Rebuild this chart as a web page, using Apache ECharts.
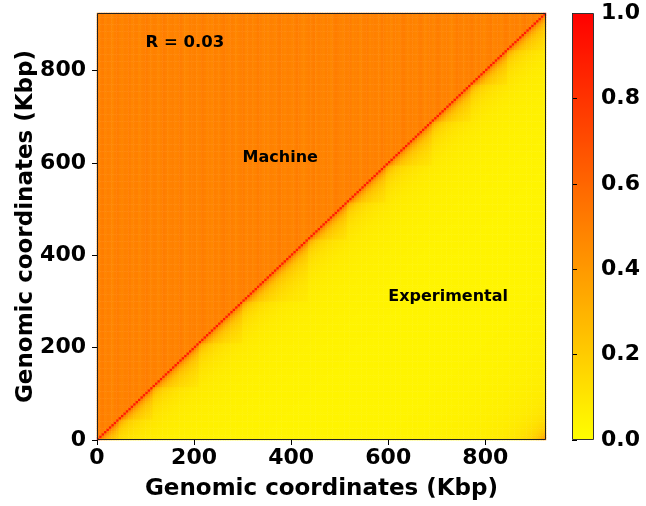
<!DOCTYPE html>
<html>
<head>
<meta charset="utf-8">
<script src="https://cdn.jsdelivr.net/npm/echarts@6/dist/echarts.min.js"></script>
<style>
  html, body { margin: 0; padding: 0; background: #ffffff; }
  #chart { width: 646px; height: 506px; }
</style>
</head>
<body>
<div id="chart"></div>
<script>
// ---- data ----------------------------------------------------------------
const binKbp = 5;            // matrix resolution
const genomeKbp = 925;       // genome length shown on both axes
const axisTicks = [0, 200, 400, 600, 800];
const colorTicks = [0.0, 0.2, 0.4, 0.6, 0.8, 1.0];
const axisTitle = 'Genomic coordinates (Kbp)';
const annotationTexts = ['R = 0.03', 'Machine', 'Experimental'];

// predicted (machine) contact level per column, upper triangle
const machineColumns = [
  0.50,0.49,0.51,0.48,0.50,0.49,0.47,0.50,0.51,0.49,
  0.48,0.50,0.49,0.51,0.48,0.49,0.50,0.47,0.49,0.50,
  0.51,0.49,0.48,0.50,0.49,0.47,0.49,0.51,0.50,0.48,
  0.49,0.50,0.48,0.49,0.51,0.49,0.47,0.48,0.50,0.49,
  0.50,0.48,0.49,0.51,0.50,0.48,0.49,0.47,0.50,0.49,
  0.48,0.50,0.51,0.49,0.48,0.50,0.49,0.47,0.49,0.50,
  0.51,0.48,0.49,0.50,0.48,0.49,0.51,0.50,0.48,0.49,
  0.47,0.50,0.49,0.48,0.50,0.51,0.49,0.48,0.50,0.49,
  0.48,0.49,0.51,0.50,0.48,0.47,0.49,0.50,0.49,0.51,
  0.48,0.50,0.49,0.48,0.50,0.49,0.47,0.49,0.51,0.50,
  0.49,0.48,0.50,0.49,0.51,0.48,0.49,0.50,0.47,0.49,
  0.50,0.51,0.48,0.49,0.50,0.49,0.48,0.51,0.50,0.48,
  0.49,0.47,0.50,0.49,0.48,0.50,0.51,0.49,0.48,0.50,
  0.49,0.48,0.50,0.51,0.49,0.47,0.49,0.50,0.48,0.49,
  0.51,0.50,0.48,0.49,0.50,0.48,0.47,0.49,0.51,0.50,
  0.49,0.48,0.50,0.49,0.51,0.49,0.48,0.50,0.49,0.47,
  0.49,0.50,0.51,0.48,0.49,0.50,0.48,0.49,0.51,0.50,
  0.48,0.49,0.50,0.49,0.47,0.50,0.51,0.49,0.48,0.50,
  0.49,0.48,0.50,0.49,0.51
];

// experimental contact level by (circular) distance from the diagonal, in bins
const contactDecay = [
  0.90,
  0.40,0.32,0.27,0.23,0.20,0.18,0.165,0.15,0.14,0.13,
  0.122,0.115,0.108,0.102,0.097,0.093,0.089,0.086,0.083,0.080,
  0.078,0.076,0.074,0.072,0.070,0.069,0.068,0.066,0.065,0.064,
  0.063,0.062,0.061,0.060,0.059,0.058,0.058,0.057,0.056,0.055,
  0.055,0.054,0.054,0.053,0.053,0.052,0.052,0.051,0.051,0.050,
  0.050,0.050,0.049,0.049,0.049,0.048,0.048,0.048,0.047,0.047,
  0.047,0.047,0.046,0.046,0.046,0.046,0.045,0.045,0.045,0.045,
  0.045,0.044,0.044,0.044,0.044,0.044,0.043,0.043,0.043,0.043,
  0.043,0.043,0.042,0.042,0.042,0.042,0.042,0.042,0.042,0.042,0.042,0.042
];

// domain edges (Kbp) of the experimental map; contacts inside a domain are enriched
const domainEdgesKbp = [0, 45, 115, 210, 300, 435, 515, 595, 690, 770, 845, 925];
const domainBoost = 1.25;

// ---- matrix --------------------------------------------------------------
const nBins = Math.round(genomeKbp / binKbp);
const binLabels = Array.from({ length: nBins }, (_, i) => i * binKbp);
function domainOf(bin) {
  const kbp = bin * binKbp;
  let d = 0;
  while (d < domainEdgesKbp.length - 2 && kbp >= domainEdgesKbp[d + 1]) d++;
  return d;
}
const cells = [];
for (let i = 0; i < nBins; i++) {
  for (let j = 0; j < nBins; j++) {
    let v;
    if (j > i) {
      v = machineColumns[i];
    } else {
      const d = i - j;
      v = contactDecay[Math.min(d, nBins - d)];
      if (d > 0 && domainOf(i) === domainOf(j)) v = Math.min(1, v * domainBoost);
    }
    cells.push([i, j, v]);
  }
}

// ---- layout --------------------------------------------------------------
const plot = { left: 97, top: 13, width: 449, height: 427 };
const bar = { left: 572, top: 13, width: 22, height: 427 };
const font = 'DejaVu Sans';
const tickLabel = { color: '#000', fontFamily: font, fontWeight: 'bold', fontSize: 22 };
const titleStyle = { color: '#000', fontFamily: font, fontWeight: 'bold', fontSize: 23 };

const chart = echarts.init(document.getElementById('chart'), null, { renderer: 'canvas' });

chart.setOption({
  animation: false,
  backgroundColor: '#ffffff',
  grid: [
    { left: plot.left, top: plot.top, width: plot.width, height: plot.height, outerBoundsMode: 'none' },
    { left: bar.left, top: bar.top, width: bar.width, height: bar.height, outerBoundsMode: 'none' }
  ],
  xAxis: [
    { type: 'category', gridIndex: 0, data: binLabels, show: false },
    {
      type: 'value', gridIndex: 0, min: 0, max: genomeKbp, interval: 200, position: 'bottom',
      z: 10,
      name: axisTitle, nameLocation: 'middle', nameGap: 38, nameMoveOverlap: false,
      nameTextStyle: titleStyle,
      axisLine: { show: false },
      axisTick: { show: true, length: 5, lineStyle: { color: '#000', width: 1 } },
      axisLabel: Object.assign({ margin: 7, showMaxLabel: false,
        formatter: v => axisTicks.includes(v) ? String(v) : '' }, tickLabel),
      splitLine: { show: false }
    },
    { type: 'value', gridIndex: 1, min: 0, max: 1, show: false }
  ],
  yAxis: [
    { type: 'category', gridIndex: 0, data: binLabels, show: false },
    {
      type: 'value', gridIndex: 0, min: 0, max: genomeKbp, interval: 200, position: 'left',
      z: 10,
      name: axisTitle, nameLocation: 'middle', nameGap: 59, nameRotate: 90, nameMoveOverlap: false,
      nameTextStyle: titleStyle,
      axisLine: { show: false },
      axisTick: { show: true, length: 5, lineStyle: { color: '#000', width: 1 } },
      axisLabel: Object.assign({ margin: 11, showMaxLabel: false,
        formatter: v => axisTicks.includes(v) ? String(v) : '' }, tickLabel),
      splitLine: { show: false }
    },
    {
      type: 'value', gridIndex: 1, min: 0, max: 1, interval: 0.2, position: 'right',
      z: 10,
      axisLine: { show: false },
      axisTick: { show: true, length: 5, lineStyle: { color: '#000', width: 1 } },
      axisLabel: Object.assign({ margin: 7,
        formatter: v => colorTicks.some(t => Math.abs(t - v) < 1e-9) ? v.toFixed(1) : '' }, tickLabel),
      splitLine: { show: false }
    }
  ],
  visualMap: {
    type: 'continuous', min: 0, max: 1, seriesIndex: 0,
    calculable: false, realtime: false, hoverLink: false,
    left: bar.left, top: bar.top, padding: 0,
    itemWidth: bar.width, itemHeight: bar.height,
    text: null, showLabel: false,
    inRange: { color: ['#ffff00', '#ff0000'] }
  },
  series: [{
    type: 'heatmap',
    xAxisIndex: 0, yAxisIndex: 0,
    data: cells,
    progressive: 0,
    emphasis: { disabled: true }
  }]
});

// frames and annotations placed from the axes' own coordinates
const labelPos = [[100, 850, 16.5], [300, 600, 16], [600, 300, 16]];
const graphics = [
  { type: 'rect', z: 100, silent: true,
    shape: { x: plot.left + 0.5, y: plot.top + 0.5, width: plot.width - 1, height: plot.height - 1 },
    style: { fill: null, stroke: '#222', lineWidth: 1 } },
  { type: 'rect', z: 100, silent: true,
    shape: { x: bar.left + 0.5, y: bar.top + 0.5, width: bar.width - 1, height: bar.height - 1 },
    style: { fill: null, stroke: '#333', lineWidth: 1 } }
];
annotationTexts.forEach((t, k) => {
  const [x, y, size] = labelPos[k];
  const p = chart.convertToPixel({ xAxisIndex: 1, yAxisIndex: 1 }, [x, y]);
  graphics.push({
    type: 'text', z: 100, silent: true, x: p[0], y: p[1] - 5,
    style: { text: t, fill: '#000', font: 'bold ' + size + 'px "' + font + '"',
             textAlign: 'left', textVerticalAlign: 'middle' }
  });
});
chart.setOption({ graphic: graphics });
</script>
</body>
</html>
